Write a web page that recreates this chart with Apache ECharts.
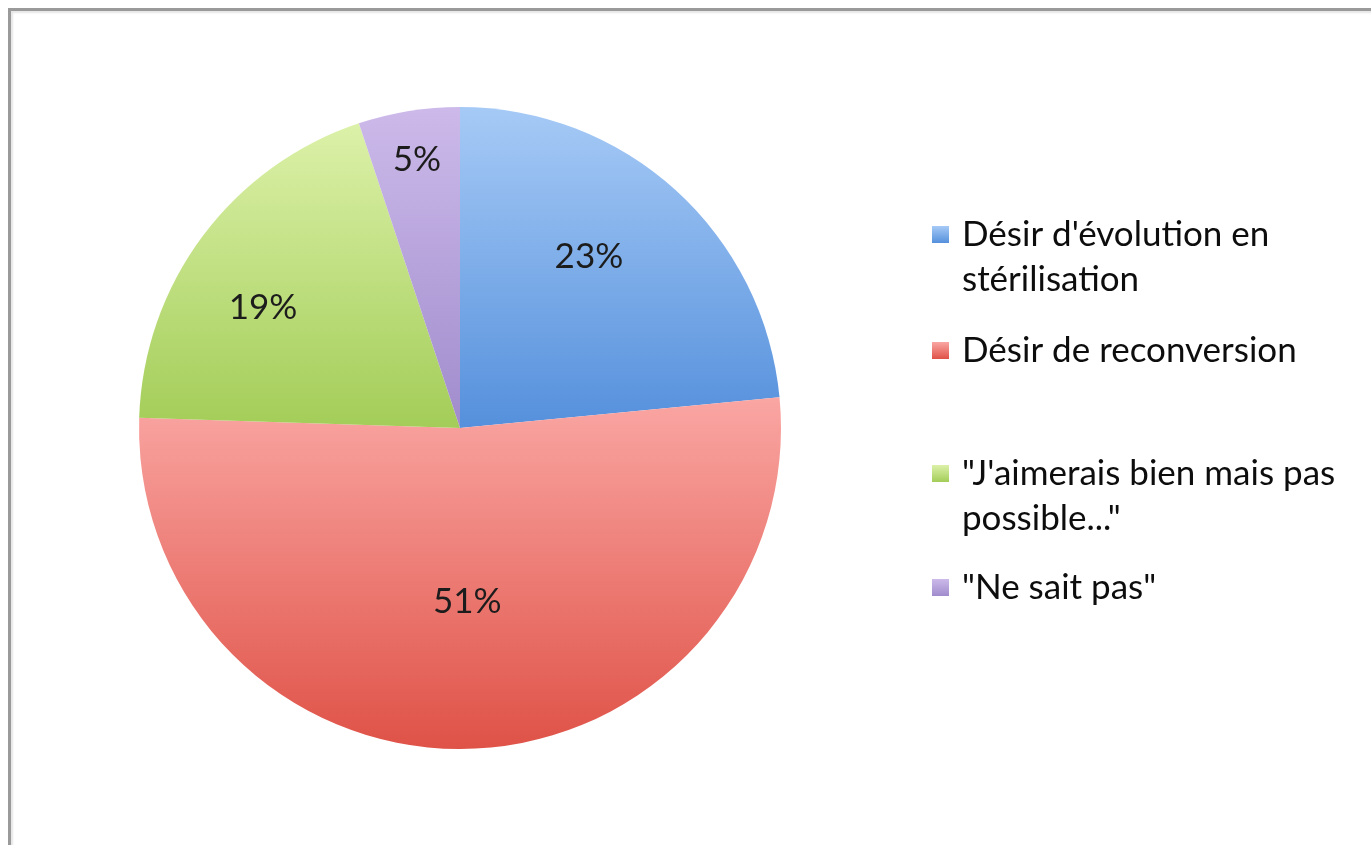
<!DOCTYPE html>
<html>
<head>
<meta charset="utf-8">
<script src="https://cdn.jsdelivr.net/npm/echarts@6/dist/echarts.min.js"></script>
<style>
  html, body { margin: 0; padding: 0; background: #fff; }
  #chart { position: absolute; left: 0; top: 0; width: 1371px; height: 845px; }
  #frame {
    position: absolute; left: 8px; top: 8px; right: -10px; bottom: -10px;
    border-left: 3px solid #9a9a9a; border-top: 3px solid #9a9a9a;
    box-shadow: inset 2px 2px 2px #e6e6e6; pointer-events: none;
  }
</style>
</head>
<body>
<div id="chart"></div>
<div id="frame"></div>
<script>
const categories = [
  "Désir d'évolution en\nstérilisation",
  "Désir de reconversion",
  "\"J'aimerais bien mais pas\npossible...\"",
  "\"Ne sait pas\""
];
const shares = [23, 51, 19, 5];
const colorTop = ["#a6caf6", "#faa6a3", "#dcf1a9", "#cdbaea"];
const colorBottom = ["#5590dc", "#df5247", "#a3cd58", "#a08ccc"];

// label nudges away from the slice mid-radius, like the source
const labelShift = [[19, -50], [2, 10], [-66, -22], [-17, -107]];
const legendTop = [167, 328, 406, 565];

const font = 'Lato, "Open Sans", sans-serif';

const chart = echarts.init(document.getElementById("chart"));

const data = categories.map((name, i) => ({
  name,
  value: shares[i],
  itemStyle: {
    color: new echarts.graphic.LinearGradient(0, 0, 0, 1, [
      { offset: 0, color: colorTop[i] },
      { offset: 1, color: colorBottom[i] },
    ]),
  },
}));

// icon sits on the first line: a blank line above wrapped names keeps it centred there
const legendText = (name) => {
  const lines = name.split("\n");
  if (lines.length > 1) lines.unshift("");
  return lines.map((l) => "{g|}" + l).join("\n");
};

const legends = categories.map((name, i) => ({
  data: [name],
  orient: "vertical",
  left: 932,
  top: legendTop[i],
  padding: 0,
  itemWidth: 17,
  itemHeight: 17,
  icon: "rect",
  selectedMode: false,
  formatter: legendText,
  textStyle: {
    fontFamily: font,
    fontSize: 35,
    lineHeight: 45,
    color: "#0d0d0d",
    rich: { g: { width: 8, lineHeight: 45 } },
  },
}));

chart.setOption({
  animation: false,
  legend: legends,
  series: [
    {
      type: "pie",
      center: [460, 428],
      radius: 321,
      startAngle: 90,
      clockwise: true,
      data,
      label: {
        position: "inside",
        formatter: (p) => p.value + "%",
        fontFamily: font,
        fontSize: 35,
        color: "#1c1c1c",
      },
      labelLine: { show: false },
      labelLayout: (p) => ({ dx: labelShift[p.dataIndex][0], dy: labelShift[p.dataIndex][1] }),
      itemStyle: { borderWidth: 0 },
      emphasis: { disabled: true },
    },
  ],
});
</script>
</body>
</html>
